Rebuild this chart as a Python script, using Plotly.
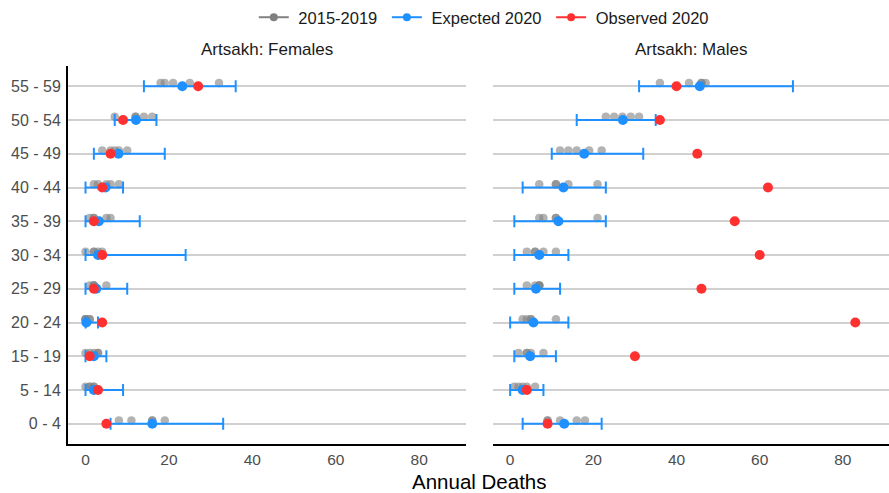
import plotly.graph_objects as go

age_groups = ["0 - 4", "5 - 14", "15 - 19", "20 - 24", "25 - 29", "30 - 34",
              "35 - 39", "40 - 44", "45 - 49", "50 - 54", "55 - 59"]

# 2015-2019 observations (five years) per age group, bottom (0-4) to top (55-59)
fem_hist = [[8, 11, 16, 16, 19], [0, 1, 1, 2, 2], [0, 1, 2, 3, 3], [0, 0, 0, 1, 1],
            [1, 2, 2, 2, 5], [0, 2, 2, 3, 4], [1, 2, 2, 5, 6], [2, 3, 5, 6, 8],
            [4, 6, 7, 8, 10], [7, 12, 12, 14, 16], [18, 19, 21, 25, 32]]
male_hist = [[9, 9, 12, 16, 18], [1, 2, 3, 4, 6], [2, 4, 4, 5, 8], [3, 4, 5, 5, 11],
             [4, 6, 7, 7, 7], [4, 6, 6, 8, 11], [7, 8, 11, 11, 21], [7, 11, 11, 14, 21],
             [12, 14, 16, 19, 22], [23, 25, 27, 29, 31], [36, 43, 46, 46, 47]]

fem_expected = [16.0, 2.0, 2.0, 0.2, 2.6, 3.0, 3.2, 4.8, 7.9, 12.1, 23.2]
fem_low = [6, 0, 0, 0, 0, 0, 0, 0, 2, 7, 14]
fem_high = [33, 9, 5, 3, 10, 24, 13, 9, 19, 17, 36]
fem_observed = [5, 3, 1, 4, 2, 4, 2, 4, 6, 9, 27]

male_expected = [13.0, 3.0, 4.8, 5.6, 6.2, 7.0, 11.6, 12.8, 17.8, 27.1, 45.6]
male_low = [3, 0, 1, 0, 1, 1, 1, 3, 10, 16, 31]
male_high = [22, 8, 11, 14, 12, 14, 23, 23, 32, 35, 68]
male_observed = [9, 4, 30, 83, 46, 60, 54, 62, 45, 36, 40]

series_names = ["2015-2019", "Expected 2020", "Observed 2020"]

GRAY = "#808080"
BLUE = "#1E90FF"
RED = "#FF3030"

fig = go.Figure()
idx = list(range(len(age_groups)))

panels = [
    ("x", "y", fem_hist, fem_expected, fem_low, fem_high, fem_observed),
    ("x2", "y2", male_hist, male_expected, male_low, male_high, male_observed),
]

for xa, ya, hist, exp_, lo, hi, obs in panels:
    hx, hy = [], []
    for i, vals in enumerate(hist):
        for v in vals:
            hx.append(v)
            hy.append(i + 0.1)
    fig.add_trace(go.Scatter(x=hx, y=hy, mode="markers", xaxis=xa, yaxis=ya,
                             marker=dict(color=GRAY, size=8.5, opacity=0.6),
                             showlegend=False, hoverinfo="x"))
    fig.add_trace(go.Scatter(x=exp_, y=idx, mode="markers", xaxis=xa, yaxis=ya,
                             marker=dict(color=BLUE, size=10),
                             error_x=dict(type="data", symmetric=False,
                                          array=[h - e for h, e in zip(hi, exp_)],
                                          arrayminus=[e - l for e, l in zip(exp_, lo)],
                                          color=BLUE, thickness=2, width=6),
                             showlegend=False))
    fig.add_trace(go.Scatter(x=obs, y=idx, mode="markers", xaxis=xa, yaxis=ya,
                             marker=dict(color=RED, size=10),
                             showlegend=False))

for name, col in zip(series_names, [GRAY, BLUE, RED]):
    fig.add_trace(go.Scatter(x=[None], y=[None], mode="lines+markers",
                             name="\u00a0" + name + "\u00a0",
                             line=dict(color=col, width=2), marker=dict(color=col, size=8)))

xr = [-4.2, 91.1]
yr = [-0.6, len(age_groups) - 1 + 0.6]
FONT = "Liberation Sans, Arial, sans-serif"
ytickfont = dict(family=FONT, size=16, color="#4D4D4D")
xtickfont = dict(family=FONT, size=15.5, color="#4D4D4D")

fig.update_layout(
    width=889, height=493,
    margin=dict(l=68, r=0, t=66, b=49),
    plot_bgcolor="white", paper_bgcolor="white",
    font=dict(family=FONT),
    xaxis=dict(domain=[0, 0.4842], range=xr, tickvals=[0, 20, 40, 60, 80],
               showgrid=False, zeroline=False, showline=True, linecolor="black",
               linewidth=2, ticks="", tickfont=xtickfont, ticklabelstandoff=0),
    xaxis2=dict(domain=[0.5173, 1], range=xr, tickvals=[0, 20, 40, 60, 80],
                showgrid=False, zeroline=False, showline=True, linecolor="black",
                linewidth=2, ticks="", tickfont=xtickfont, ticklabelstandoff=0),
    yaxis=dict(anchor="x", range=yr, tickvals=idx, ticktext=age_groups,
               showgrid=True, gridcolor="#D0D0D0", gridwidth=1.5, zeroline=False,
               showline=True, linecolor="black", linewidth=2, ticks="",
               tickfont=ytickfont, ticklabelstandoff=2),
    yaxis2=dict(anchor="x2", range=yr, tickvals=idx, showticklabels=False,
                showgrid=True, gridcolor="#D0D0D0", gridwidth=1.5, zeroline=False,
                showline=False, ticks=""),
    legend=dict(orientation="h", x=0.547, xanchor="center", xref="container",
                y=1.0, yanchor="top", yref="container",
                font=dict(family=FONT, size=16.5, color="#1A1A1A"),
                itemwidth=30),
    annotations=[
        dict(text="Artsakh: Females", x=0.2421, y=1, xref="paper", yref="paper",
             xanchor="center", yanchor="bottom", yshift=5, showarrow=False,
             font=dict(family=FONT, size=17, color="#1A1A1A")),
        dict(text="Artsakh: Males", x=0.7586, y=1, xref="paper", yref="paper",
             xanchor="center", yanchor="bottom", yshift=5, showarrow=False,
             font=dict(family=FONT, size=17, color="#1A1A1A")),
        dict(text="Annual Deaths", x=0.5, y=0, xref="paper", yref="paper",
             xanchor="center", yanchor="top", yshift=-24, showarrow=False,
             font=dict(family=FONT, size=20.5, color="black")),
    ],
)

fig.write_html("out.html", config={"displayModeBar": False},
               post_script="document.body.style.margin='0';")
